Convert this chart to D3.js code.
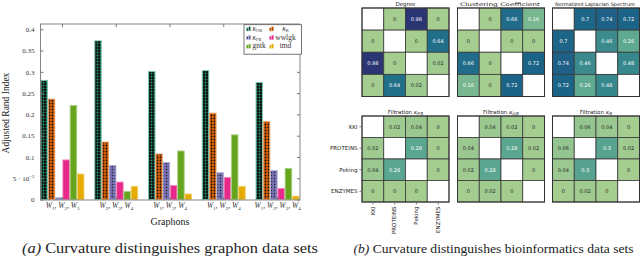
<!DOCTYPE html>
<html lang="en">
<head>
    <meta charset="UTF-8">
    <title>Curvature</title>
    <style>
        body { margin: 0; background: #fff; }
        .axis path { display: none; }
        .axis line { stroke: #777; }
    </style>
    <script src="https://cdn.jsdelivr.net/npm/d3@7"></script>
</head>
<body>
<svg class="chart" width="640" height="260"></svg>
<script>
    // ---- bar chart data ----
    const groups = ['g1', 'g2', 'g3', 'g4', 'g5'];
    const groupLabels = [['1', '2', '3'], ['2', '3', '4'], ['1', '3', '4'], ['1', '2', '4'], ['1', '2', '3', '4']];
    const seriesNames = ['kOR', 'kR', 'kFR', 'wwlgk', 'gntk', 'tmd'];
    const kOR = [0.280, 0.373, 0.301, 0.303, 0.275];
    const kR = [0.236, 0.135, 0.107, 0.203, 0.183];
    const kFR = [0.004, 0.080, 0.087, 0.063, 0.068];
    const wwlgk = [0.093, 0.041, 0.033, 0.052, 0.026];
    const gntk = [0.221, 0.019, 0.114, 0.152, 0.073];
    const tmd = [0.060, 0.031, 0.013, 0.031, 0.008];
    const yTicks = [0, 0.05, 0.1, 0.15, 0.2, 0.25, 0.3, 0.35, 0.4];

    // ---- heatmap data ----
    const datasets = ['KKI', 'PROTEINS', 'Peking', 'ENZYMES'];
    const degree = [[NaN, 0, 0.98, 0], [0, NaN, 0, 0.64], [0.98, 0, NaN, 0.02], [0, 0.64, 0.02, NaN]];
    const clustering = [[NaN, 0, 0.66, 0.16], [0, NaN, 0, 0], [0.66, 0, NaN, 0.72], [0.16, 0, 0.72, NaN]];
    const laplacian = [[NaN, 0.7, 0.74, 0.72], [0.7, NaN, 0.46, 0.26], [0.74, 0.46, NaN, 0.48], [0.72, 0.26, 0.48, NaN]];
    const filtFR = [[NaN, 0.02, 0.04, 0], [0.02, NaN, 0.28, 0], [0.04, 0.28, NaN, 0], [0, 0, 0, NaN]];
    const filtOR = [[NaN, 0.04, 0.02, 0], [0.04, NaN, 0.28, 0.02], [0.02, 0.28, NaN, 0], [0, 0.02, 0, NaN]];
    const filtR = [[NaN, 0.06, 0.04, 0], [0.06, NaN, 0.3, 0.02], [0.04, 0.3, NaN, 0], [0, 0.02, 0, NaN]];

    const SERIF = '"Liberation Serif", "Times New Roman", serif';
    const SANS = '"DejaVu Sans", sans-serif';

    const svg = d3.select('.chart');
    const values = [kOR, kR, kFR, wwlgk, gntk, tmd];
    const colors = ['#1b9e77', '#d95f02', '#7570b3', '#e7298a', '#66a61e', '#e6ab02'];
    const fills = ['url(#pOR)', 'url(#pR)', 'url(#pFR)', colors[3], colors[4], colors[5]];
    const light = c => d3.interpolateRgb(c, '#fff')(0.45);

    // patterns
    const defs = svg.append('defs');
    function dots(id, bg, fg, r) {
        const p = defs.append('pattern').attr('id', id).attr('patternUnits', 'userSpaceOnUse')
            .attr('width', 3).attr('height', 3);
        p.append('rect').attr('width', 3).attr('height', 3).attr('fill', bg);
        p.append('circle').attr('cx', 1.5).attr('cy', 1.5).attr('r', r).attr('fill', fg);
    }
    dots('pOR', '#111', colors[0], 0.9);
    dots('pR', colors[1], '#111', 0.9);
    dots('pFR', colors[2], '#222', 0.7);

    const plot = {left: 40.5, right: 300, top: 24, bottom: 200};
    const x = d3.scaleBand().domain(groups).range([41, 299]).paddingInner(0.2).paddingOuter(0);
    const xs = d3.scaleBand().domain(seriesNames).range([0, x.bandwidth()]).paddingInner(0.1);
    const y = d3.scaleLinear().domain([0, 0.4]).range([199.5, 29.3]);

    // bars
    values.forEach((vals, s) => {
        svg.append('g').selectAll('rect').data(vals).enter().append('rect')
            .attr('x', (d, i) => x(groups[i]) + xs(seriesNames[s]))
            .attr('y', d => y(d))
            .attr('width', xs.bandwidth())
            .attr('height', d => y(0) - y(d))
            .attr('fill', fills[s])
            .attr('stroke', light(colors[s]))
            .attr('stroke-width', 0.9);
    });

    // frame
    svg.append('rect').attr('x', plot.left).attr('y', plot.top)
        .attr('width', plot.right - plot.left).attr('height', plot.bottom - plot.top)
        .attr('fill', 'none').attr('stroke', '#666').attr('stroke-width', 0.8);

    // y axis
    const fmt = d3.format('~g');
    const yAxis = svg.append('g').attr('class', 'axis')
        .attr('transform', 'translate(' + plot.left + ',0)')
        .call(d3.axisLeft(y).tickValues(yTicks).tickSizeInner(-3).tickSizeOuter(0).tickPadding(6)
            .tickFormat(d => d === 0.05 ? '' : fmt(d)));
    yAxis.attr('font-family', SERIF);
    yAxis.selectAll('text').attr('font-size', 7).attr('fill', '#333');
    yAxis.selectAll('.tick').filter(d => d === 0.05).select('text')
        .call(t => {
            t.append('tspan').text('5 · 10');
            t.append('tspan').attr('font-size', 5).attr('dy', -3).text('−2');
        });
    svg.append('g').attr('class', 'axis')
        .attr('transform', 'translate(' + plot.right + ',0)')
        .call(d3.axisRight(y).tickValues(yTicks).tickSizeInner(-3).tickSizeOuter(0).tickFormat(''));

    // x axis
    const xAxis = svg.append('g').attr('class', 'axis')
        .attr('transform', 'translate(0,' + plot.bottom + ')')
        .call(d3.axisBottom(x).tickSizeInner(-3).tickSizeOuter(0).tickPadding(8).tickFormat(''));
    xAxis.attr('font-family', SERIF);
    xAxis.selectAll('.tick text').each(function (d, i) {
        const t = d3.select(this).attr('font-size', 7.5).attr('fill', '#333').attr('font-style', 'italic');
        groupLabels[i].forEach((n, k) => {
            t.append('tspan').attr('dy', k === 0 ? 0 : -2).text((k ? ', ' : '') + 'W');
            t.append('tspan').attr('font-size', 5).attr('dy', 2).attr('font-style', 'normal').text(n);
        });
    });
    svg.append('g').attr('class', 'axis')
        .attr('transform', 'translate(0,' + plot.top + ')')
        .call(d3.axisTop(x).tickSizeInner(-3).tickSizeOuter(0).tickFormat(''));

    svg.append('text').attr('font-family', SERIF).attr('font-size', 9.5).attr('fill', '#222')
        .attr('text-anchor', 'middle').attr('transform', 'translate(9,113) rotate(-90)')
        .text('Adjusted Rand Index');
    svg.append('text').attr('font-family', SERIF).attr('font-size', 10).attr('fill', '#222')
        .attr('text-anchor', 'middle').attr('x', 170).attr('y', 225).text('Graphons');

    // legend
    const lg = svg.append('g');
    lg.append('rect').attr('x', 244).attr('y', 24.7).attr('width', 57.5).attr('height', 29.5)
        .attr('fill', '#fff').attr('stroke', '#555').attr('stroke-width', 0.8);
    const legendText = [['κ', 'OR'], ['κ', 'R'], ['κ', 'FR'], ['wwlgk'], ['gntk'], ['tmd']];
    seriesNames.forEach((s, i) => {
        const col = i % 2, row = Math.floor(i / 2);
        const gx = col === 0 ? 246.5 : 269.5, gy = 31 + row * 8.6;
        [[0, 3.2], [2.3, 4.2]].forEach(b => {
            lg.append('rect').attr('x', gx + b[0]).attr('y', gy - b[1]).attr('width', 1.8).attr('height', b[1])
                .attr('fill', fills[i]).attr('stroke', light(colors[i])).attr('stroke-width', 0.4);
        });
        const t = lg.append('text').attr('font-family', SERIF).attr('font-size', 7.5).attr('fill', '#333')
            .attr('x', col === 0 ? 252.5 : 285.5).attr('y', gy)
            .attr('text-anchor', col === 0 ? 'start' : 'middle');
        const lt = legendText[i];
        if (lt.length === 2) {
            t.append('tspan').attr('font-style', 'italic').text(lt[0]);
            t.append('tspan').attr('font-size', 4.5).attr('dy', 1).text(lt[1]);
        } else {
            t.text(lt[0]);
        }
    });

    // captions
    const capA = svg.append('text').attr('font-family', SERIF).attr('font-size', 14).attr('fill', '#222')
        .attr('text-anchor', 'middle').attr('x', 170).attr('y', 253)
        .attr('textLength', 296).attr('lengthAdjust', 'spacingAndGlyphs');
    capA.append('tspan').attr('font-style', 'italic').text('(a)');
    capA.append('tspan').text(' Curvature distinguishes graphon data sets');
    const capB = svg.append('text').attr('font-family', SERIF).attr('font-size', 13.5).attr('fill', '#222')
        .attr('text-anchor', 'middle').attr('x', 493.5).attr('y', 253)
        .attr('textLength', 280).attr('lengthAdjust', 'spacingAndGlyphs');
    capB.append('tspan').attr('font-style', 'italic').text('(b)');
    capB.append('tspan').text(' Curvature distinguishes bioinformatics data sets');

    // ---- heatmaps ----
    const crest = d3.scaleLinear()
        .domain([0, 1 / 7, 2 / 7, 3 / 7, 4 / 7, 5 / 7, 6 / 7, 1])
        .range(['#a5cd90', '#7dba91', '#59a590', '#40908e', '#287a8c', '#1c6488', '#254b7f', '#2c3172'])
        .interpolate(d3.interpolateRgb);
    function lum(c) {
        const rgb = d3.rgb(c);
        const f = v => { v /= 255; return v <= 0.03928 ? v / 12.92 : Math.pow((v + 0.055) / 1.055, 2.4); };
        return 0.2126 * f(rgb.r) + 0.7152 * f(rgb.g) + 0.0722 * f(rgb.b);
    }

    const panels = [
        {m: degree, title: [['Degree']], x0: 362, y0: 8, h: 88.5},
        {m: clustering, title: [['Clustering Coefficient']], x0: 457.5, y0: 8, h: 88.5},
        {m: laplacian, title: [['Normalized Laplacian Spectrum']], x0: 552.5, y0: 8, h: 88.5},
        {m: filtFR, title: [['Filtration '], ['κ', 'i'], ['FR', 's']], x0: 362, y0: 116, h: 86, labels: true},
        {m: filtOR, title: [['Filtration '], ['κ', 'i'], ['OR', 's']], x0: 457.5, y0: 116, h: 86},
        {m: filtR, title: [['Filtration '], ['κ', 'i'], ['R', 's']], x0: 552.5, y0: 116, h: 86}
    ];
    panels.forEach(p => {
        const w = 87;
        const cx = d3.scaleBand().domain(datasets).range([p.x0, p.x0 + w]);
        const cy = d3.scaleBand().domain(datasets).range([p.y0, p.y0 + p.h]);
        const g = svg.append('g');
        const cells = [];
        p.m.forEach((row, r) => row.forEach((v, c) => cells.push({r, c, v})));
        g.selectAll('rect.cell').data(cells).enter().append('rect')
            .attr('x', d => cx(datasets[d.c])).attr('y', d => cy(datasets[d.r]))
            .attr('width', cx.bandwidth()).attr('height', cy.bandwidth())
            .attr('fill', d => isNaN(d.v) ? '#fff' : crest(d.v))
            .attr('stroke', '#3a3a3a').attr('stroke-width', 0.8);
        g.selectAll('text.ann').data(cells.filter(d => !isNaN(d.v))).enter().append('text')
            .attr('font-family', SANS).attr('font-size', 5).attr('text-anchor', 'middle')
            .attr('x', d => cx(datasets[d.c]) + cx.bandwidth() / 2)
            .attr('y', d => cy(datasets[d.r]) + cy.bandwidth() / 2 + 1.8)
            .attr('fill', d => lum(crest(d.v)) < 0.42 ? '#fff' : '#262626')
            .text(d => d3.format('~g')(d.v));
        g.append('rect').attr('x', p.x0).attr('y', p.y0).attr('width', w).attr('height', p.h)
            .attr('fill', 'none').attr('stroke', '#333').attr('stroke-width', 1);
        const long = p.title[0][0].length > 20;
        const t = g.append('text').attr('font-family', SANS).attr('font-size', long ? 4.9 : 5.5).attr('fill', '#222')
            .attr('text-anchor', 'middle').attr('x', p.x0 + w / 2 - (long ? 1 : 0)).attr('y', p.y0 - 2)
            .attr('textLength', long ? 80 : null)
            .attr('lengthAdjust', 'spacingAndGlyphs');
        p.title.forEach(part => {
            const sp = t.append('tspan').text(part[0]);
            if (part[1] === 'i') sp.attr('font-style', 'italic').attr('font-family', 'DejaVu Serif');
            if (part[1] === 's') sp.attr('font-size', 4).attr('dy', 1).attr('font-style', 'italic')
                .attr('font-family', 'DejaVu Serif');
        });
        if (p.labels) {
            const ly = g.append('g').attr('class', 'axis')
                .attr('transform', 'translate(' + p.x0 + ',0)')
                .call(d3.axisLeft(cy).tickSize(2.5).tickPadding(2));
            ly.attr('font-family', SANS);
            ly.selectAll('text').attr('font-size', 5.5).attr('fill', '#222');
            ly.selectAll('line').attr('stroke', '#333');
            const lx = g.append('g').attr('class', 'axis')
                .attr('transform', 'translate(0,' + (p.y0 + p.h) + ')')
                .call(d3.axisBottom(cx).tickSize(2.5).tickPadding(2));
            lx.attr('font-family', SANS);
            lx.selectAll('text').attr('font-size', 5.5).attr('fill', '#222')
                .attr('text-anchor', 'end').attr('dy', '0.32em')
                .attr('transform', 'translate(0,4.5) rotate(-90)').attr('y', 0).attr('x', 0);
            lx.selectAll('line').attr('stroke', '#333');
        }
    });
</script>
</body>
</html>
